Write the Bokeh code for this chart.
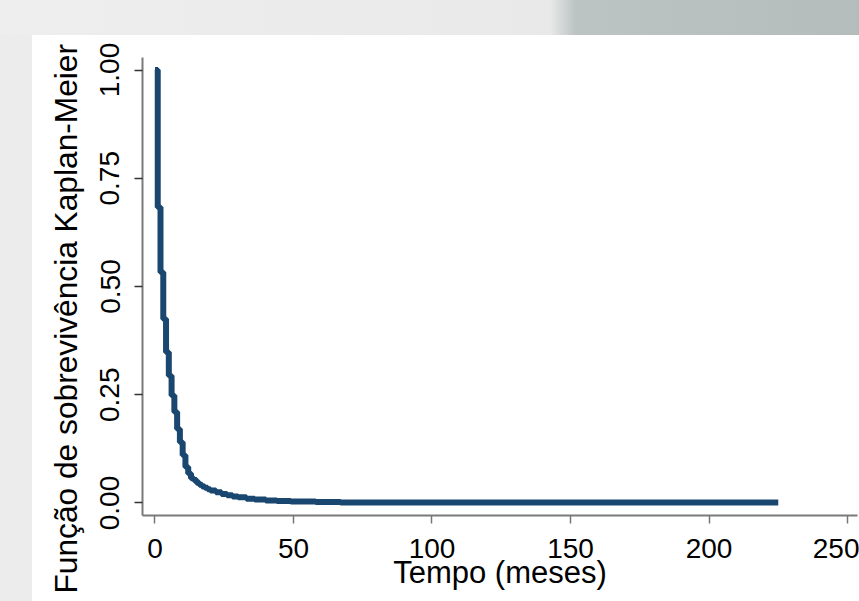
import math
from bokeh.plotting import figure
from bokeh.models import Range1d, FixedTicker, PrintfTickFormatter, Title, Div
from bokeh.layouts import column, row
from bokeh.embed import file_html
from bokeh.resources import INLINE

# Kaplan-Meier step curve (time in months, survival probability)
time_months = [0, 1, 2, 3, 4, 5, 6, 7, 8, 9, 10, 11, 12, 13, 14, 15, 16, 17, 18,
               19, 20, 22, 24, 26, 28, 30, 33, 36, 40, 44, 49, 58, 67, 225]
survival = [1.0, 0.683, 0.533, 0.425, 0.348, 0.294, 0.248, 0.210, 0.171, 0.140,
            0.110, 0.083, 0.068, 0.057, 0.053, 0.047, 0.042, 0.038, 0.035, 0.032,
            0.029, 0.025, 0.021, 0.018, 0.015, 0.013, 0.010, 0.008, 0.006, 0.0045,
            0.0032, 0.002, 0.001, 0.001]

x_ticks = [0, 50, 100, 150, 200, 250]
y_ticks = [0.0, 0.25, 0.5, 0.75, 1.0]
x_title = "Tempo (meses)"
y_title = "Função de sobrevivência Kaplan-Meier"

FONT = "Liberation Sans"
LINE_COLOR = "#1a476f"

p = figure(width=827, height=566, output_backend="svg", toolbar_location=None,
           x_range=Range1d(-4.5, 253.6), y_range=Range1d(-0.0289, 1.0289),
           min_border_left=110, min_border_right=2, min_border_top=22,
           min_border_bottom=86)
p.outline_line_color = None
p.grid.visible = False
p.background_fill_color = "white"
p.border_fill_color = "white"

p.step(time_months, survival, mode="after", line_color=LINE_COLOR, line_width=6)

for ax in (p.xaxis[0], p.yaxis[0]):
    ax.axis_line_color = "#7a7a7a"
    ax.axis_line_width = 2
    ax.major_tick_in = 0
    ax.major_tick_out = 8
    ax.minor_tick_line_color = None
    ax.major_label_text_font = FONT
    ax.major_label_text_font_size = "28px"
    ax.major_label_text_color = "black"
    ax.major_tick_line_width = 1.5

p.xaxis.ticker = FixedTicker(ticks=x_ticks)
p.yaxis.ticker = FixedTicker(ticks=y_ticks)
p.yaxis.formatter = PrintfTickFormatter(format="%.2f")
p.xaxis.major_tick_line_color = "#777777"
p.yaxis.major_tick_line_color = "#333333"
p.yaxis.major_label_orientation = "parallel"
p.xaxis.major_label_standoff = 15
p.yaxis.major_label_standoff = 15

# invisible spacer label pushes the y title away from the tick labels
p.yaxis.axis_label = " "
p.yaxis.axis_label_text_font_size = "2px"
p.yaxis.axis_label_standoff = 6

p.xaxis.axis_label = x_title
p.xaxis.axis_label_text_font = FONT
p.xaxis.axis_label_text_font_size = "31px"
p.xaxis.axis_label_text_font_style = "normal"
p.xaxis.axis_label_text_color = "black"
p.xaxis.axis_label_standoff = -6

p.add_layout(Title(text=y_title, align="left", offset=-78, standoff=5,
                   text_font=FONT, text_font_size="31.7px", text_font_style="normal",
                   text_color="black"), "left")

top_bg = Div(text="", width=859, height=35, margin=0,
             styles={"background": "linear-gradient(to right, #eeeeee 0%, #e9e9e9 64%, #bcc3c3 67%, #b4bcbc 100%)"})
left_bg = Div(text="", width=32, height=566, margin=0, styles={"background": "#ececec"})

layout = column(top_bg, row(left_bg, p, spacing=0), spacing=0)

open("out.html", "w").write(file_html(layout, INLINE))
